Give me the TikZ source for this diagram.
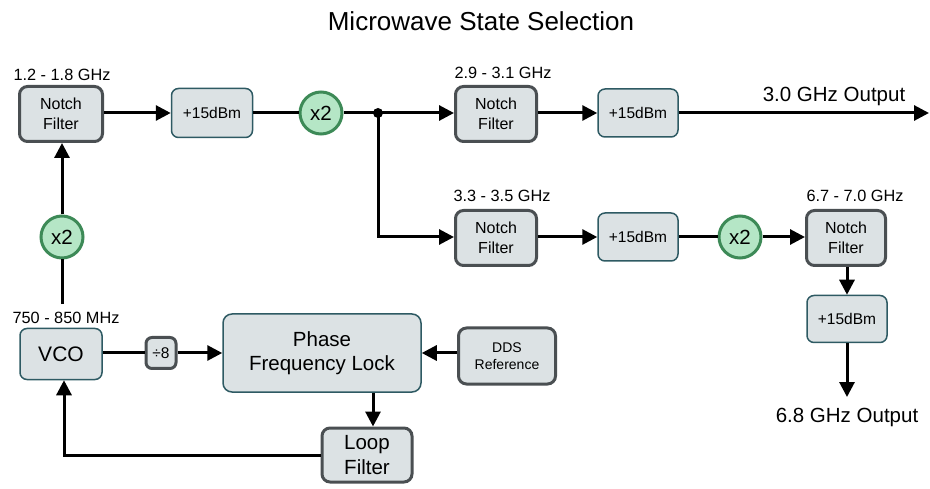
\documentclass[tikz,border=0pt]{standalone}
\usepackage{fontspec}
\setmainfont{Liberation Sans}
\usetikzlibrary{arrows.meta}
\definecolor{boxfill}{HTML}{DCE2E4}
\definecolor{darkedge}{HTML}{4A4F52}
\definecolor{tealedge}{HTML}{2E5A63}
\definecolor{mixfill}{HTML}{B5E6C6}
\definecolor{mixedge}{HTML}{3D8A57}
\begin{document}
\begin{tikzpicture}[x=1pt,y=-1pt,
  filterbox/.style={draw=darkedge, line width=3pt, fill=boxfill, rounded corners=8pt,
    inner sep=0pt, align=center, font=\fontsize{16}{20}\selectfont},
  ampbox/.style={draw=tealedge, line width=1.5pt, fill=boxfill, rounded corners=7pt,
    inner sep=0pt, align=center, font=\fontsize{15.5}{18}\selectfont},
  mixer/.style={circle, draw=mixedge, line width=3pt, fill=mixfill, minimum size=42pt,
    inner sep=0pt, font=\fontsize{20.5}{24}\selectfont},
  band/.style={font=\fontsize{16.3}{18}\selectfont, inner sep=0pt},
  outlabel/.style={font=\fontsize{20.5}{24}\selectfont, inner sep=0pt},
  wire/.style={line width=3pt, draw=black},
  flow/.style={wire, -{Triangle[length=15pt,width=15pt]}},
]
\useasboundingbox (0,0) rectangle (930,489);

% title
\node[font=\fontsize{26}{30}\selectfont, inner sep=0pt] (title) at (481,21) {Microwave State Selection};

% upper chain: 3.0 GHz path
\node[filterbox, minimum width=83pt, minimum height=55pt] (notchA) at (61,114) {Notch\\Filter};
\node[band] (bandA) at (62,75) {1.2 - 1.8 GHz};
\node[ampbox, minimum width=81pt, minimum height=49pt] (ampA) at (212,113) {+15dBm};
\node[mixer] (mixA) at (321,113) {x2};
\node[circle, fill=black, inner sep=0pt, minimum size=10pt] (junction) at (378,113) {};
\node[filterbox, minimum width=81pt, minimum height=55pt] (notchB) at (496,114) {Notch\\Filter};
\node[band] (bandB) at (503,73) {2.9 - 3.1 GHz};
\node[ampbox, minimum width=80pt, minimum height=48pt] (ampB) at (638,113) {+15dBm};
\coordinate (out3) at (929,113);
\node[outlabel] (out3label) at (834,96) {3.0 GHz Output};

% lower chain: 6.8 GHz path
\node[filterbox, minimum width=81pt, minimum height=55pt] (notchC) at (496,238) {Notch\\Filter};
\node[band] (bandC) at (502,196) {3.3 - 3.5 GHz};
\node[ampbox, minimum width=80pt, minimum height=48pt] (ampC) at (638,237) {+15dBm};
\node[mixer] (mixC) at (740,237) {x2};
\node[filterbox, minimum width=79pt, minimum height=55pt] (notchD) at (846,238) {Notch\\Filter};
\node[band] (bandD) at (855,196) {6.7 - 7.0 GHz};
\node[ampbox, minimum width=80pt, minimum height=47pt] (ampD) at (847,319) {+15dBm};
\coordinate (out68) at (847,397);
\node[outlabel] (out68label) at (847,417) {6.8 GHz Output};

% reference loop
\node[mixer] (mixB) at (62,237) {x2};
\node[ampbox, minimum width=82pt, minimum height=51pt, font=\fontsize{21}{24}\selectfont] (vco) at (61,354) {VCO};
\node[band] (bandV) at (66,318) {750 - 850 MHz};
\node[filterbox, minimum width=30pt, minimum height=31pt, rounded corners=6pt, font=\fontsize{15.5}{18}\selectfont] (div) at (161,353) {\char"00F7 8};
\node[ampbox, minimum width=198pt, minimum height=78pt, rounded corners=9pt, font=\fontsize{20.5}{24}\selectfont] (pfl) at (322,353) {Phase\\Frequency Lock};
\node[filterbox, minimum width=97pt, minimum height=56pt, font=\fontsize{14}{17}\selectfont] (dds) at (507,356) {DDS\\Reference};
\node[filterbox, minimum width=90pt, minimum height=54pt, font=\fontsize{20.5}{25}\selectfont] (loop) at (367,455) {Loop\\Filter};
\coordinate (lx) at (373,0);

% connectors
\draw[flow] (notchA.east |- ampA.west) -- (ampA.west);
\draw[wire] (ampA.east) -- (mixA.west);
\draw[wire] (mixA.east) -- (junction.center);
\draw[flow] (junction.center) -- (notchB.west |- junction.center);
\draw[flow] (notchB.east |- ampB.west) -- (ampB.west);
\draw[flow] (ampB.east) -- (out3);

\draw[flow] (junction.center) |- (notchC.west |- ampC.west);
\draw[flow] (notchC.east |- ampC.west) -- (ampC.west);
\draw[wire] (ampC.east) -- (mixC.west);
\draw[flow] (mixC.east) -- (notchD.west |- mixC.east);
\draw[flow] (notchD.south -| ampD.north) -- (ampD.north);
\draw[flow] (ampD.south) -- (out68);

\draw[wire] ([yshift=8pt]bandV.north -| mixB.south) -- (mixB.south);
\draw[flow] (mixB.north) -- (notchA.south -| mixB.north);
\draw[wire] (vco.east |- div.west) -- (div.west);
\draw[flow] (div.east) -- (pfl.west |- div.east);
\draw[flow] (dds.west |- pfl.east) -- (pfl.east);
\draw[flow] (pfl.south -| lx) -- (loop.north -| lx);
\draw[flow] (loop.west) -| ([xshift=3pt]vco.south);
\end{tikzpicture}
\end{document}
